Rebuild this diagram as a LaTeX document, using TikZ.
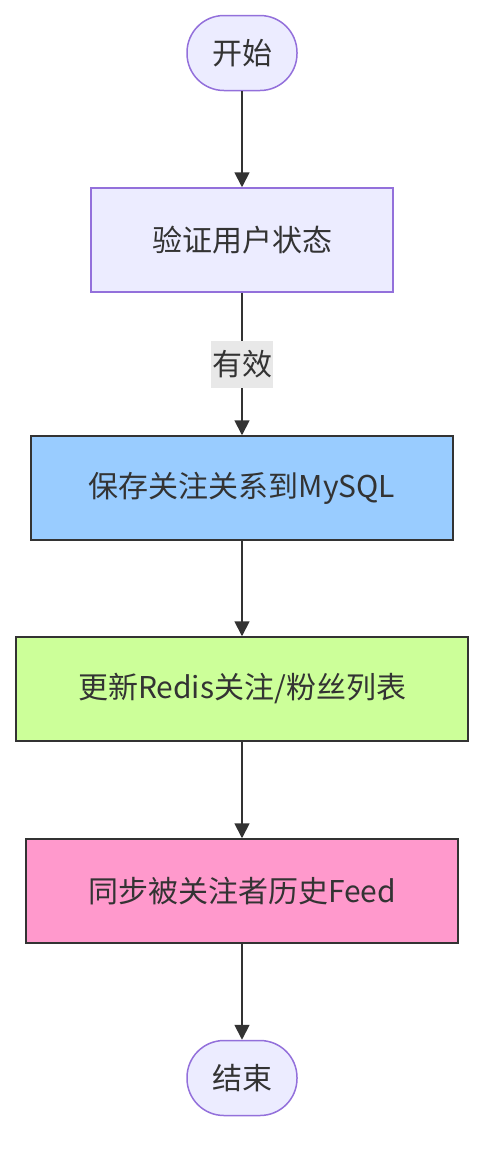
\documentclass[tikz,border=0pt]{standalone}
\usepackage{fontspec}
\setmainfont{Noto Sans CJK SC}
\usepackage{xcolor}
\usepackage{tikz}
\usetikzlibrary{arrows.meta,positioning}
\definecolor{nodepurple}{HTML}{9370DB}
\definecolor{nodefill}{HTML}{ECECFF}
\definecolor{edgegray}{HTML}{333333}
\definecolor{stepblue}{HTML}{99CCFF}
\definecolor{stepgreen}{HTML}{CCFF99}
\definecolor{steppink}{HTML}{FF99CC}
\definecolor{labelbg}{HTML}{E8E8E8}

\begin{document}
\begin{tikzpicture}[x=1pt,y=-1pt,
    every node/.style={font=\fontsize{30}{34}\selectfont,text=edgegray,inner sep=0pt},
    terminal/.style={draw=nodepurple,fill=nodefill,line width=1.5pt,rounded corners=37pt,minimum width=110pt,minimum height=75pt},
    stepbox/.style={draw=edgegray,line width=1.5pt,minimum height=104pt},
    plainbox/.style={draw=nodepurple,fill=nodefill,line width=1.5pt,minimum height=104pt},
    flow/.style={draw=edgegray,line width=1.8pt,-{Triangle[length=15pt,width=15pt]}}]
        \useasboundingbox (0,0) rectangle (500,1168);
        % nodes
        \node[terminal] (start) at (242,53) {开始};
        \node[plainbox,minimum width=302pt] (verify) at (242,240) {验证用户状态};
        \node[stepbox,fill=stepblue,minimum width=422pt] (savesql) at (242,488) {保存关注关系到MySQL};
        \node[stepbox,fill=stepgreen,minimum width=452pt] (redis) at (242,689) {更新Redis关注/粉丝列表};
        \node[stepbox,fill=steppink,minimum width=432pt] (feed) at (242,891) {同步被关注者历史Feed};
        \node[terminal] (stop) at (242,1078) {结束};
        % edges
        \draw[flow] (start) -- (verify);
        \draw[flow] (verify) -- node[fill=labelbg,minimum width=62pt,minimum height=47pt] (valid) {有效} (savesql);
        \draw[flow] (savesql) -- (redis);
        \draw[flow] (redis) -- (feed);
        \draw[flow] (feed) -- (stop);
      \end{tikzpicture}
\end{document}
